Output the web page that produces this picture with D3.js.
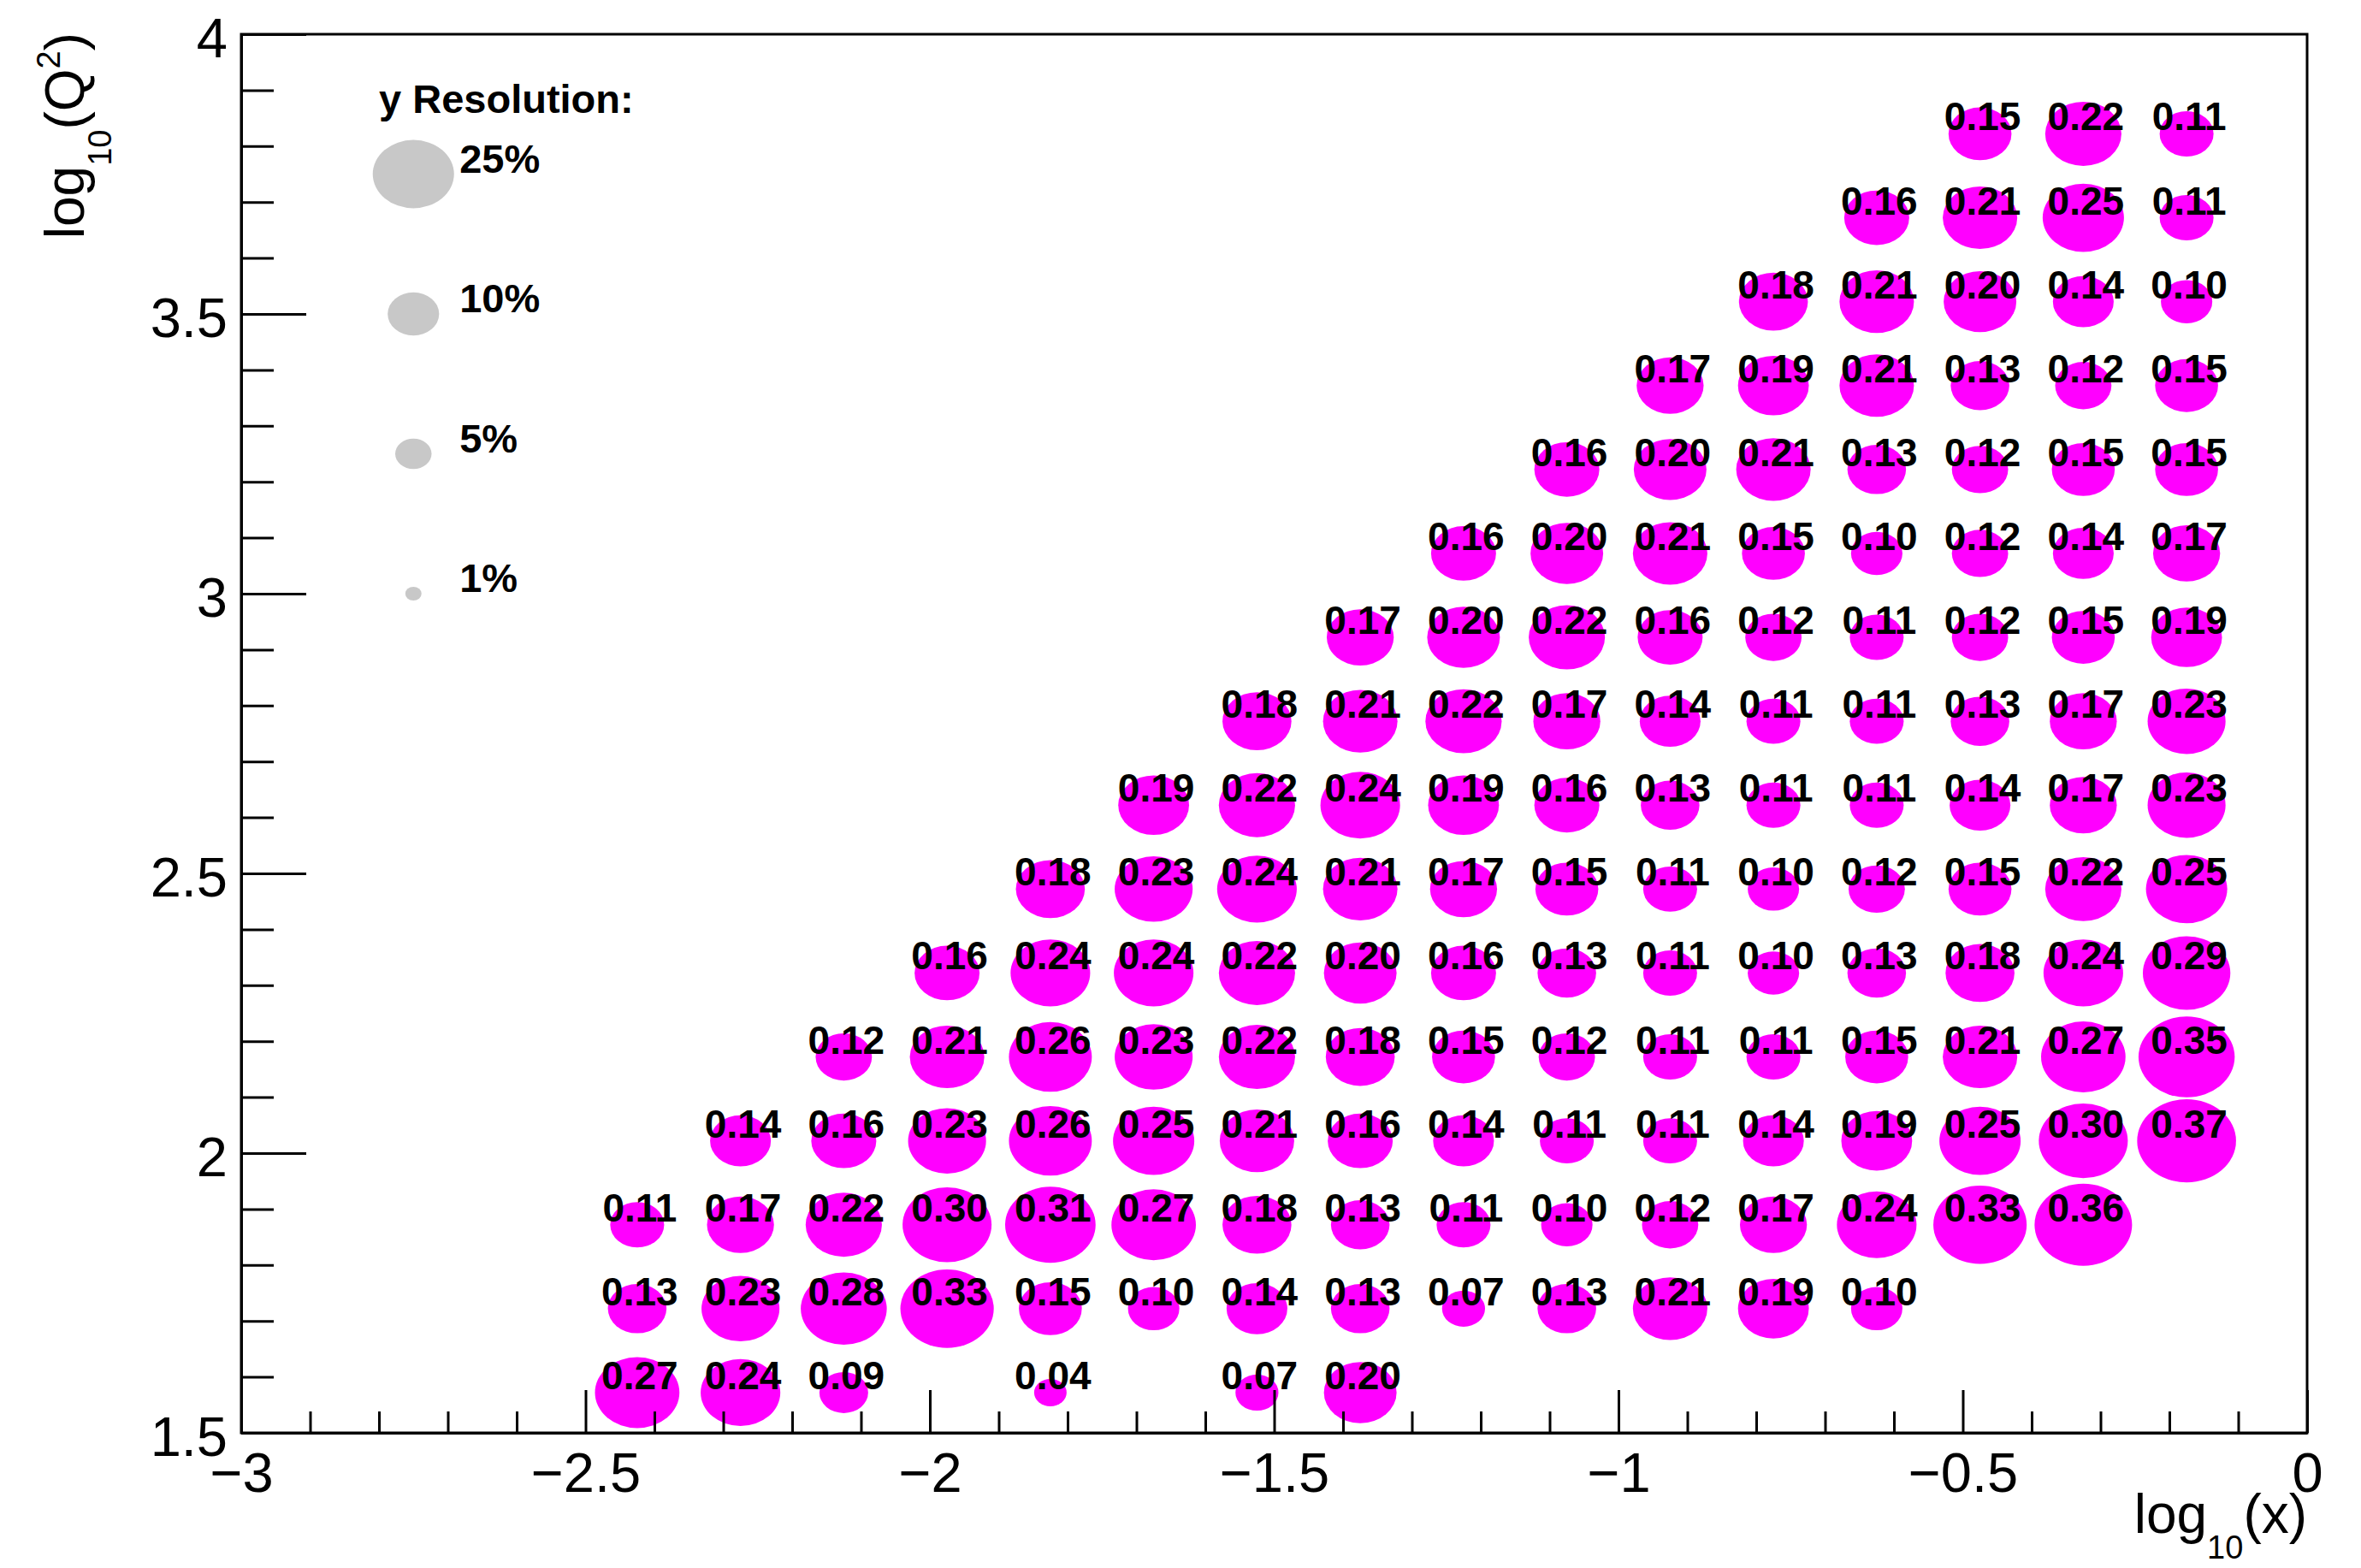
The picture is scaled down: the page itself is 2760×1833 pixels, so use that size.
<!DOCTYPE html>
<html>
<head>
<meta charset="utf-8">
<script src="https://cdn.jsdelivr.net/npm/d3@7"></script>
<style>
  html, body { margin: 0; padding: 0; background: #ffffff; }
  svg { display: block; }
  text { font-family: "Liberation Sans", Arial, Helvetica, sans-serif; }
</style>
</head>
<body>
<script>
// ---------------- DATA ----------------
// bin centres in log10(x) (columns) and log10(Q^2) (rows)
const xBins = [-2.425, -2.275, -2.125, -1.975, -1.825, -1.675, -1.525, -1.375,
               -1.225, -1.075, -0.925, -0.775, -0.625, -0.475, -0.325, -0.175];
const yBins = [1.575, 1.725, 1.875, 2.025, 2.175, 2.325, 2.475, 2.625,
               2.775, 2.925, 3.075, 3.225, 3.375, 3.525, 3.675, 3.825];

// y resolution per Q^2 row (bottom to top), one entry per x column (null = empty)
const _ = null;
const row0  = [0.27, 0.24, 0.09, _,    0.04, _,    0.07, 0.20, _,    _,    _,    _,    _,    _,    _,    _   ];
const row1  = [0.13, 0.23, 0.28, 0.33, 0.15, 0.10, 0.14, 0.13, 0.07, 0.13, 0.21, 0.19, 0.10, _,    _,    _   ];
const row2  = [0.11, 0.17, 0.22, 0.30, 0.31, 0.27, 0.18, 0.13, 0.11, 0.10, 0.12, 0.17, 0.24, 0.33, 0.36, _   ];
const row3  = [_,    0.14, 0.16, 0.23, 0.26, 0.25, 0.21, 0.16, 0.14, 0.11, 0.11, 0.14, 0.19, 0.25, 0.30, 0.37];
const row4  = [_,    _,    0.12, 0.21, 0.26, 0.23, 0.22, 0.18, 0.15, 0.12, 0.11, 0.11, 0.15, 0.21, 0.27, 0.35];
const row5  = [_,    _,    _,    0.16, 0.24, 0.24, 0.22, 0.20, 0.16, 0.13, 0.11, 0.10, 0.13, 0.18, 0.24, 0.29];
const row6  = [_,    _,    _,    _,    0.18, 0.23, 0.24, 0.21, 0.17, 0.15, 0.11, 0.10, 0.12, 0.15, 0.22, 0.25];
const row7  = [_,    _,    _,    _,    _,    0.19, 0.22, 0.24, 0.19, 0.16, 0.13, 0.11, 0.11, 0.14, 0.17, 0.23];
const row8  = [_,    _,    _,    _,    _,    _,    0.18, 0.21, 0.22, 0.17, 0.14, 0.11, 0.11, 0.13, 0.17, 0.23];
const row9  = [_,    _,    _,    _,    _,    _,    _,    0.17, 0.20, 0.22, 0.16, 0.12, 0.11, 0.12, 0.15, 0.19];
const row10 = [_,    _,    _,    _,    _,    _,    _,    _,    0.16, 0.20, 0.21, 0.15, 0.10, 0.12, 0.14, 0.17];
const row11 = [_,    _,    _,    _,    _,    _,    _,    _,    _,    0.16, 0.20, 0.21, 0.13, 0.12, 0.15, 0.15];
const row12 = [_,    _,    _,    _,    _,    _,    _,    _,    _,    _,    0.17, 0.19, 0.21, 0.13, 0.12, 0.15];
const row13 = [_,    _,    _,    _,    _,    _,    _,    _,    _,    _,    _,    0.18, 0.21, 0.20, 0.14, 0.10];
const row14 = [_,    _,    _,    _,    _,    _,    _,    _,    _,    _,    _,    _,    0.16, 0.21, 0.25, 0.11];
const row15 = [_,    _,    _,    _,    _,    _,    _,    _,    _,    _,    _,    _,    _,    0.15, 0.22, 0.11];
const rows = [row0, row1, row2, row3, row4, row5, row6, row7,
              row8, row9, row10, row11, row12, row13, row14, row15];

// legend
const legendTitle = "y Resolution:";
const legendValues = [0.25, 0.10, 0.05, 0.01];
const legendLabels = ["25%", "10%", "5%", "1%"];
const legendY = [3.75, 3.5, 3.25, 3.0];

// axes
const xDomain = [-3, 0];
const yDomain = [1.5, 4];
const xMajorTicks = [-3, -2.5, -2, -1.5, -1, -0.5, 0];
const yMajorTicks = [1.5, 2, 2.5, 3, 3.5, 4];

// ---------------- LAYOUT ----------------
const W = 2760, H = 1833;
const plot = { left: 282, right: 2697, top: 40, bottom: 1675 };

const svg = d3.select("body").append("svg")
  .attr("width", W).attr("height", H)
  .attr("viewBox", `0 0 ${W} ${H}`);

svg.append("rect").attr("width", W).attr("height", H).attr("fill", "#ffffff");

const x = d3.scaleLinear().domain(xDomain).range([plot.left, plot.right]);
const y = d3.scaleLinear().domain(yDomain).range([plot.bottom, plot.top]);
// marker size: area proportional to the resolution (ellipse, slightly wider than tall)
const rx = d3.scaleSqrt().domain([0, 1]).range([0, 95]);
const aspect = 0.84;

// frame
svg.append("rect")
  .attr("x", plot.left).attr("y", plot.top)
  .attr("width", plot.right - plot.left).attr("height", plot.bottom - plot.top)
  .attr("fill", "none").attr("stroke", "#000").attr("stroke-width", 3);

// ---------------- MARKS ----------------
const points = [];
rows.forEach((r, j) => r.forEach((v, i) => {
  if (v !== null) points.push({ x: xBins[i], y: yBins[j], v: v });
}));

const gData = svg.append("g");
gData.selectAll("ellipse").data(points).enter().append("ellipse")
  .attr("cx", d => x(d.x)).attr("cy", d => y(d.y) + 2)
  .attr("rx", d => rx(d.v)).attr("ry", d => rx(d.v) * aspect)
  .attr("fill", "#ff00ff");

gData.selectAll("text").data(points).enter().append("text")
  .attr("x", d => x(d.x) + 3).attr("y", d => y(d.y) - 2)
  .attr("text-anchor", "middle")
  .attr("font-size", 46).attr("font-weight", "bold").attr("fill", "#000")
  .text(d => d3.format(".2f")(d.v));

// ---------------- LEGEND ----------------
const gLeg = svg.append("g");
gLeg.append("text")
  .attr("x", x(-2.80)).attr("y", y(3.86))
  .attr("font-size", 47).attr("font-weight", "bold").attr("fill", "#000")
  .text(legendTitle);
gLeg.selectAll("ellipse").data(legendValues).enter().append("ellipse")
  .attr("cx", x(-2.75)).attr("cy", (d, i) => y(legendY[i]))
  .attr("rx", d => rx(d)).attr("ry", d => rx(d) * aspect)
  .attr("fill", "#c8c8c8");
gLeg.selectAll("text.lab").data(legendLabels).enter().append("text")
  .attr("class", "lab")
  .attr("x", x(-2.683)).attr("y", (d, i) => y(legendY[i]) - 2)
  .attr("font-size", 47).attr("font-weight", "bold").attr("fill", "#000")
  .text(d => d);

// ---------------- AXES ----------------
const fmt = d3.format("~g");
const xMinor = d3.range(-29, 0).map(k => k / 10).filter(v => !xMajorTicks.some(t => Math.abs(t - v) < 1e-9));
const yMinor = d3.range(16, 40).map(k => k / 10).filter(v => !yMajorTicks.some(t => Math.abs(t - v) < 1e-9));

function styleAxis(g) {
  g.selectAll("path.domain").attr("stroke", "#000").attr("stroke-width", 3);
  g.selectAll(".tick line").attr("stroke", "#000").attr("stroke-width", 3);
  g.selectAll(".tick text").attr("fill", "#000")
    .attr("font-family", '"Liberation Sans", Arial, Helvetica, sans-serif')
    .attr("font-size", 65);
}

const gxMinor = svg.append("g").attr("transform", `translate(0,${plot.bottom})`)
  .call(d3.axisBottom(x).tickValues(xMinor).tickSizeInner(-25).tickSizeOuter(0).tickFormat(""));
gxMinor.select("path.domain").remove();
styleAxis(gxMinor);

const gx = svg.append("g").attr("transform", `translate(0,${plot.bottom})`)
  .call(d3.axisBottom(x).tickValues(xMajorTicks).tickSizeInner(-50).tickSizeOuter(0)
    .tickPadding(23).tickFormat(fmt));
styleAxis(gx);

const gyMinor = svg.append("g").attr("transform", `translate(${plot.left},0)`)
  .call(d3.axisLeft(y).tickValues(yMinor).tickSizeInner(-38).tickSizeOuter(0).tickFormat(""));
gyMinor.select("path.domain").remove();
styleAxis(gyMinor);

const gy = svg.append("g").attr("transform", `translate(${plot.left},0)`)
  .call(d3.axisLeft(y).tickValues(yMajorTicks).tickSizeInner(-76).tickSizeOuter(0)
    .tickPadding(16).tickFormat(fmt));
styleAxis(gy);
gy.selectAll(".tick text").attr("dy", "0.4em");

// ---------------- AXIS TITLES ----------------
const xt = svg.append("text")
  .attr("x", plot.right).attr("y", 1792)
  .attr("text-anchor", "end").attr("font-size", 64).attr("fill", "#000");
xt.append("tspan").text("log");
xt.append("tspan").attr("font-size", 38).attr("dy", 30).text("10");
xt.append("tspan").attr("dy", -30).text("(x)");

const yt = svg.append("text")
  .attr("transform", `translate(98,${plot.top - 2}) rotate(-90)`)
  .attr("text-anchor", "end").attr("font-size", 64).attr("fill", "#000");
yt.append("tspan").text("log");
yt.append("tspan").attr("font-size", 38).attr("dy", 32).text("10");
yt.append("tspan").attr("dy", -32).text("(Q");
yt.append("tspan").attr("font-size", 38).attr("dy", -28).text("2");
yt.append("tspan").attr("dy", 28).text(")");
</script>
</body>
</html>
